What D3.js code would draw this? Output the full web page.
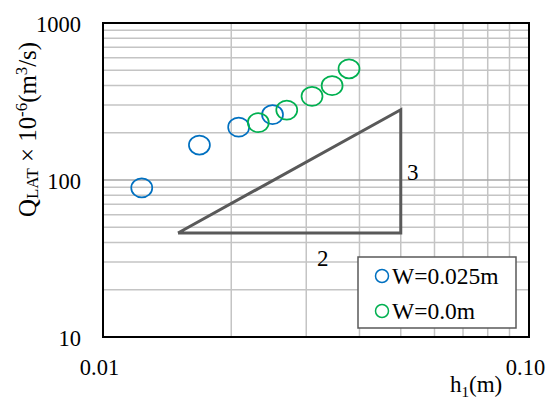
<!DOCTYPE html>
<html>
<head>
<meta charset="utf-8">
<script src="https://cdn.jsdelivr.net/npm/d3@7"></script>
<style>
  body { margin: 0; background: #fff; }
  svg { display: block; }
  text { font-family: "Liberation Serif", "Times New Roman", serif; fill: #000; }
</style>
</head>
<body>
<svg id="chart" width="553" height="399"></svg>
<script>
// Measured discharge against upstream depth, two wall settings
const seriesNames = ["W=0.025m", "W=0.0m"];
const seriesColors = ["#0070c0", "#00b050"];
const h1Wide = [0.01233, 0.01684, 0.02082, 0.0250];
const qWide = [89, 167, 217, 261];
const h1Zero = [0.02315, 0.0270, 0.03095, 0.0345, 0.0378];
const qZero = [232, 279, 341, 399, 511];

// 3:2 slope reference triangle
const slopeH = [0.015, 0.05, 0.05, 0.015];
const slopeQ = [46, 46, 280, 46];
const slopeLabels = ["2", "3"];
const slopeLabelH = [0.0328, 0.0517];
const slopeLabelQ = [28.3, 100];

const xTickValues = [0.01, 0.1];
const xTickLabels = ["0.01", "0.10"];
const yTickValues = [10, 100, 1000];
const yTickLabels = ["10", "100", "1000"];
const xMinor = [0.02, 0.03, 0.04, 0.05, 0.06, 0.07, 0.08, 0.09];
const yMinor = [20, 30, 40, 50, 60, 70, 80, 90, 200, 300, 400, 500, 600, 700, 800, 900];
const yMajor = [100];

const svg = d3.select("#chart");
const plotL = 103, plotR = 529, plotT = 23, plotB = 337;

const x = d3.scaleLog().domain([0.01, 0.1]).range([plotL, plotR]);
const y = d3.scaleLog().domain([10, 1000]).range([plotB, plotT]);

// gridlines
const grid = svg.append("g");
grid.selectAll("line.gx").data(xMinor).join("line")
  .attr("x1", d => x(d)).attr("x2", d => x(d))
  .attr("y1", plotT).attr("y2", plotB)
  .attr("stroke", "#c4c4c4").attr("stroke-width", 1.5);
grid.selectAll("line.gy").data(yMinor).join("line")
  .attr("x1", plotL).attr("x2", plotR)
  .attr("y1", d => y(d)).attr("y2", d => y(d))
  .attr("stroke", "#c4c4c4").attr("stroke-width", 1.5);
grid.selectAll("line.gM").data(yMajor).join("line")
  .attr("x1", plotL).attr("x2", plotR)
  .attr("y1", d => y(d)).attr("y2", d => y(d))
  .attr("stroke", "#a6a6a6").attr("stroke-width", 1.5);

// plot frame
svg.append("rect")
  .attr("x", plotL).attr("y", plotT)
  .attr("width", plotR - plotL).attr("height", plotB - plotT)
  .attr("fill", "none").attr("stroke", "#000").attr("stroke-width", 2);

// axes (labels only)
const yAxis = svg.append("g")
  .attr("transform", `translate(${plotL},0)`)
  .call(d3.axisLeft(y).tickValues(yTickValues)
    .tickFormat((d, i) => yTickLabels[i]).tickSize(0).tickPadding(22));
yAxis.select(".domain").remove();
yAxis.selectAll("text")
  .attr("font-family", "Liberation Serif").attr("font-size", 22.5)
  .attr("dy", "0.36em").attr("fill", "#000");

const xAxis = svg.append("g")
  .attr("transform", `translate(0,${plotB})`)
  .call(d3.axisBottom(x).tickValues(xTickValues)
    .tickFormat((d, i) => xTickLabels[i]).tickSize(0).tickPadding(0));
xAxis.select(".domain").remove();
xAxis.selectAll("text")
  .attr("font-family", "Liberation Serif").attr("font-size", 22.5)
  .attr("dx", -4).attr("y", 38).attr("dy", 0).attr("fill", "#000");

// slope triangle
const slopePts = slopeH.map((h, i) => [x(h), y(slopeQ[i])]);
svg.append("path")
  .attr("d", d3.line()(slopePts))
  .attr("fill", "none").attr("stroke", "#595959")
  .attr("stroke-width", 3).attr("stroke-linejoin", "miter");
svg.selectAll("text.slope").data(slopeLabels).join("text")
  .attr("class", "slope")
  .attr("x", (d, i) => x(slopeLabelH[i]))
  .attr("y", (d, i) => y(slopeLabelQ[i]))
  .attr("text-anchor", (d, i) => i === 0 ? "middle" : "start")
  .attr("font-size", 23)
  .text(d => d);

// data markers
const series = [
  { h: h1Wide, q: qWide },
  { h: h1Zero, q: qZero }
];
series.forEach((s, k) => {
  svg.append("g").selectAll("ellipse")
    .data(s.h.map((h, i) => [h, s.q[i]]))
    .join("ellipse")
    .attr("cx", d => x(d[0])).attr("cy", d => y(d[1]))
    .attr("rx", 10.5).attr("ry", 9.5)
    .attr("fill", "none").attr("stroke", seriesColors[k]).attr("stroke-width", 1.7);
});

// legend
const lg = svg.append("g");
lg.append("rect")
  .attr("x", 358).attr("y", 257).attr("width", 158).attr("height", 71)
  .attr("fill", "#fff").attr("stroke", "#595959").attr("stroke-width", 1.5);
seriesNames.forEach((name, i) => {
  const cy = 276 + i * 35;
  lg.append("circle").attr("cx", 382).attr("cy", cy).attr("r", 6.5)
    .attr("fill", "none").attr("stroke", seriesColors[i]).attr("stroke-width", 1.5);
  lg.append("text").attr("x", 392).attr("y", cy + 7.5)
    .attr("font-size", 23.5).text(name);
});

// axis titles
const xt = svg.append("text").attr("x", 450).attr("y", 392).attr("font-size", 23);
xt.append("tspan").text("h");
xt.append("tspan").attr("font-size", 15).attr("dy", 5).text("1");
xt.append("tspan").attr("dy", -5).text("(m)");

// vertical title, fitted to a 175px run along the axis
const ytG = svg.append("g");
const yt = ytG.append("text")
  .attr("text-anchor", "middle").attr("font-size", 23.5);
yt.append("tspan").text("Q");
yt.append("tspan").attr("font-size", 16).attr("dy", 2).text("LAT");
yt.append("tspan").attr("dy", -2).text(" \u00d7 10");
yt.append("tspan").attr("font-size", 16).attr("dy", -9).text("-6");
yt.append("tspan").attr("dy", 9).text("(m");
yt.append("tspan").attr("font-size", 16).attr("dy", -9).text("3");
yt.append("tspan").attr("dy", 9).text("/s)");
const ytLen = yt.node().getComputedTextLength() || 175;
const ytK = 175 / ytLen;
ytG.attr("transform", `translate(36,129.5) rotate(-90) scale(${ytK})`);
</script>
</body>
</html>
